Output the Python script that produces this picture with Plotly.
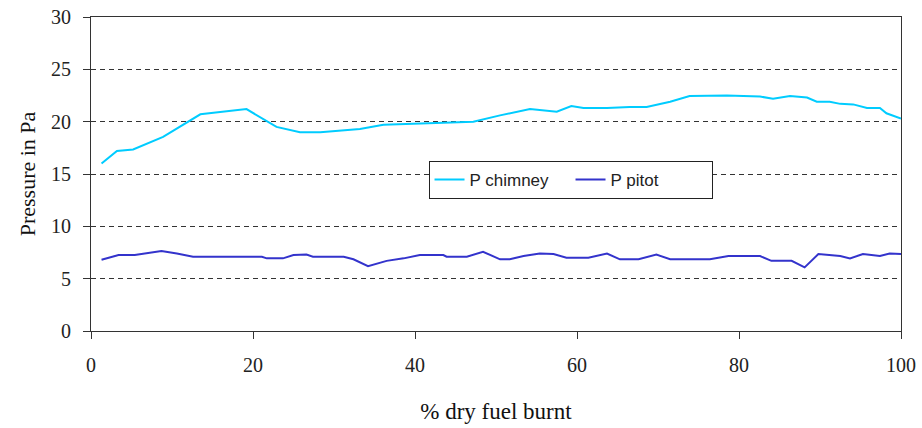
import plotly.graph_objects as go

chimney_x = [1.3, 3.2, 5.2, 8.9, 13.5, 16.7, 19.2, 22.9, 25.8, 28.3, 29.9, 33.2, 36.1, 42.3, 47.2,
             50.5, 54.2, 57.5, 59.3, 60.8, 63.7, 66.5, 68.6, 71.5, 73.9, 78.5, 82.6, 84.2, 86.3,
             88.4, 89.6, 91.2, 92.5, 94.1, 95.8, 97.4, 98.2, 100]
chimney_y = [16.0, 17.2, 17.35, 18.55, 20.7, 20.95, 21.2, 19.5, 19.0, 19.0, 19.1, 19.3, 19.7, 19.9, 20.0,
             20.6, 21.2, 20.95, 21.5, 21.3, 21.3, 21.4, 21.4, 21.9, 22.45, 22.5, 22.4, 22.2, 22.45,
             22.3, 21.9, 21.9, 21.7, 21.65, 21.3, 21.3, 20.8, 20.3]

pitot_x = [1.3, 3.4, 5.4, 8.7, 10.6, 12.6, 21.1, 21.7, 23.7, 25.0, 26.6, 27.4, 31.2, 32.4, 34.2,
           36.5, 38.6, 40.6, 43.5, 43.9, 46.4, 48.4, 50.5, 51.7, 53.4, 55.4, 57.1, 58.7, 61.4,
           63.7, 65.3, 67.6, 69.8, 71.5, 76.4, 78.7, 82.6, 84.0, 86.5, 88.1, 89.8, 92.5, 93.7,
           95.3, 97.4, 98.6, 100]
pitot_y = [6.8, 7.26, 7.26, 7.64, 7.4, 7.1, 7.1, 6.94, 6.94, 7.26, 7.3, 7.1, 7.1, 6.85, 6.2,
           6.7, 6.94, 7.26, 7.26, 7.1, 7.1, 7.57, 6.85, 6.85, 7.16, 7.4, 7.35, 7.0, 7.0,
           7.4, 6.85, 6.85, 7.3, 6.85, 6.85, 7.16, 7.16, 6.7, 6.7, 6.08, 7.35, 7.16, 6.94,
           7.35, 7.16, 7.4, 7.35]

x_ticks = [0, 20, 40, 60, 80, 100]
y_ticks = [0, 5, 10, 15, 20, 25, 30]

fig = go.Figure()
fig.add_trace(go.Scatter(x=chimney_x, y=chimney_y, mode="lines", name="P chimney",
                         line=dict(color="#00CCFF", width=2)))
fig.add_trace(go.Scatter(x=pitot_x, y=pitot_y, mode="lines", name="P pitot",
                         line=dict(color="#3333CC", width=2)))

serif = "Liberation Serif, Times New Roman, serif"
fig.update_layout(
    width=922, height=428,
    margin=dict(l=91, r=21, t=17, b=97, autoexpand=False),
    plot_bgcolor="white", paper_bgcolor="white",
    showlegend=True,
    legend=dict(orientation="h", x=0.592, y=0.481, xanchor="center", yanchor="middle",
                bgcolor="white", bordercolor="#222", borderwidth=1,
                font=dict(family="Liberation Sans, Arial, sans-serif", size=17, color="#222"),
                entrywidth=96, entrywidthmode="pixels"),
    xaxis=dict(range=[0, 100], tickvals=x_ticks, showgrid=False, zeroline=False,
               automargin=False, ticklabeloverflow="allow",
               showline=True, linecolor="#333", linewidth=1, mirror=True,
               ticks="outside", ticklen=7, tickcolor="#333",
               tickfont=dict(family=serif, size=20, color="#222"),
               ticklabelstandoff=9,
               title=dict(text="% dry fuel burnt", font=dict(family=serif, size=23, color="#111"),
                          standoff=27)),
    yaxis=dict(range=[0, 30], tickvals=y_ticks, showgrid=True, gridcolor="#333", gridwidth=1,
               griddash="5px,4px", zeroline=False,
               automargin=False, ticklabeloverflow="allow",
               showline=True, linecolor="#333", linewidth=1, mirror=True,
               ticks="outside", ticklen=7, tickcolor="#333",
               tickfont=dict(family=serif, size=20, color="#222"),
               ticklabelstandoff=8,
               title=dict(text="Pressure in Pa", font=dict(family=serif, size=22, color="#111"),
                          standoff=9)),
)

fig.write_html("out.html", config={"displayModeBar": False},
               post_script="document.body.style.margin='0';")
